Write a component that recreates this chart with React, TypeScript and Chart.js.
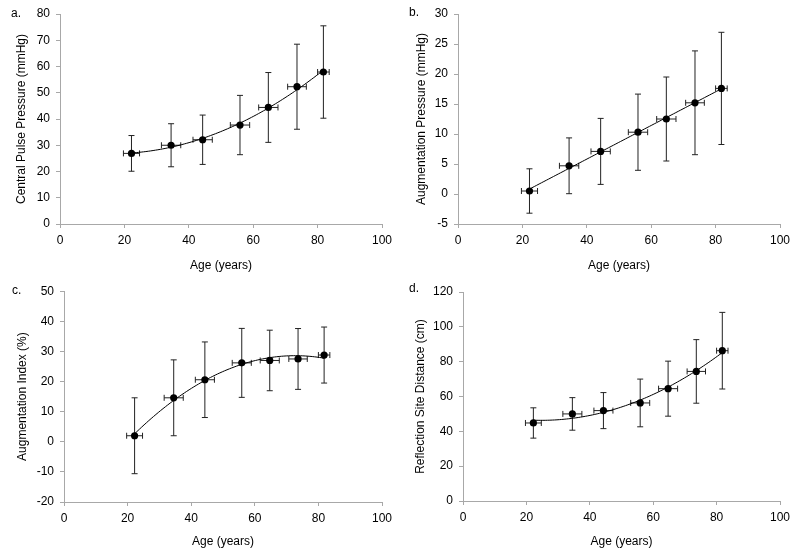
import React, { useEffect, useRef } from "react";
import { Chart, registerables } from "chart.js";

Chart.register(...registerables);

// ---- Data ----
const ages = [22.2, 34.5, 44.3, 55.9, 64.7, 73.6, 81.8];
const ageSD = [2.5, 3.0, 3.0, 3.0, 3.0, 2.9, 1.8];

const cppMean = [26.9, 30.0, 32.1, 37.7, 44.4, 52.3, 57.9];
const cppSD = [6.8, 8.2, 9.4, 11.3, 13.3, 16.2, 17.6];

const apMean = [0.5, 4.7, 7.1, 10.3, 12.5, 15.2, 17.6];
const apSD = [3.7, 4.65, 5.5, 6.35, 7.0, 8.65, 9.35];

const aixMean = [2.0, 14.6, 20.6, 26.2, 27.0, 27.5, 28.8];
const aixSD = [12.6, 12.6, 12.55, 11.45, 10.05, 10.1, 9.3];

const rsdMean = [44.8, 50.0, 51.9, 56.3, 64.5, 74.4, 86.3];
const rsdSD = [8.7, 9.35, 10.35, 13.7, 15.8, 18.25, 22.0];

const xTickMin = 0;
const xTickMax = 100;
const xTickStep = 20;

const FONT = "'Liberation Sans', Arial, Helvetica, sans-serif";

// Least-squares polynomial trendline coefficients from the data
function polyFit(xs: number[], ys: number[], order: number): number[] {
  const n = order + 1;
  const A: number[][] = Array.from({ length: n }, () => Array(n + 1).fill(0));
  for (let r = 0; r < n; r++) {
    for (let c = 0; c < n; c++) {
      A[r][c] = xs.reduce((s, x) => s + Math.pow(x, r + c), 0);
    }
    A[r][n] = xs.reduce((s, x, i) => s + Math.pow(x, r) * ys[i], 0);
  }
  for (let i = 0; i < n; i++) {
    let p = i;
    for (let k = i + 1; k < n; k++) if (Math.abs(A[k][i]) > Math.abs(A[p][i])) p = k;
    const tmp = A[i];
    A[i] = A[p];
    A[p] = tmp;
    for (let k = 0; k < n; k++) {
      if (k === i) continue;
      const f = A[k][i] / A[i][i];
      for (let j = i; j <= n; j++) A[k][j] -= f * A[i][j];
    }
  }
  return A.map((row, i) => row[n] / row[i]);
}

function trendPoints(xs: number[], ys: number[], order: number) {
  const coef = polyFit(xs, ys, order);
  const x0 = xs[0];
  const x1 = xs[xs.length - 1];
  const pts: { x: number; y: number }[] = [];
  const steps = 80;
  for (let i = 0; i <= steps; i++) {
    const x = x0 + ((x1 - x0) * i) / steps;
    let y = 0;
    for (let k = 0; k < coef.length; k++) y += coef[k] * Math.pow(x, k);
    pts.push({ x, y });
  }
  return pts;
}

type PanelCfg = {
  letter: string;
  px: number;
  py: number;
  h: number;
  mean: number[];
  sd: number[];
  yMin: number;
  yMax: number;
  yStep: number;
  yTitle: string;
  order: number;
  left: number;
  right: number;
  top: number;
  bottom: number;
  yTitleX: number;
  xTitlePadBottom: number;
  letterX: number;
  letterY: number;
};

const panels: PanelCfg[] = [
  {
    letter: "a.", px: 0, py: 0, h: 278, mean: cppMean, sd: cppSD,
    yMin: 0, yMax: 80, yStep: 10, yTitle: "Central Pulse Pressure (mmHg)", order: 2,
    left: 60, right: 382, top: 14, bottom: 224, yTitleX: 22, xTitlePadBottom: 5,
    letterX: 11, letterY: 6,
  },
  {
    letter: "b.", px: 400, py: 0, h: 278, mean: apMean, sd: apSD,
    yMin: -5, yMax: 30, yStep: 5, yTitle: "Augmentation Pressure (mmHg)", order: 1,
    left: 58, right: 380, top: 14, bottom: 224, yTitleX: 22, xTitlePadBottom: 5,
    letterX: 9, letterY: 5,
  },
  {
    letter: "c.", px: 0, py: 278, h: 278, mean: aixMean, sd: aixSD,
    yMin: -20, yMax: 50, yStep: 10, yTitle: "Augmentation Index (%)", order: 2,
    left: 64, right: 382, top: 13, bottom: 224, yTitleX: 23, xTitlePadBottom: 7,
    letterX: 12, letterY: 5,
  },
  {
    letter: "d.", px: 400, py: 278, h: 278, mean: rsdMean, sd: rsdSD,
    yMin: 0, yMax: 120, yStep: 20, yTitle: "Reflection Site Distance (cm)", order: 2,
    left: 63, right: 380, top: 14, bottom: 223, yTitleX: 21, xTitlePadBottom: 7,
    letterX: 9, letterY: 3,
  },
];

function Panel({ cfg }: { cfg: PanelCfg }) {
  const ref = useRef<HTMLCanvasElement>(null);
  useEffect(() => {
    const canvas = ref.current;
    if (!canvas) return;
    const points = ages.map((a, i) => ({ x: a, y: cfg.mean[i] }));
    const trend = trendPoints(ages, cfg.mean, cfg.order);

    const errorBars = {
      id: "errorBars",
      beforeDatasetsDraw(chart: any) {
        const ctx = chart.ctx;
        const xs = chart.scales.x;
        const ys = chart.scales.y;
        const cap = 3;
        ctx.save();
        ctx.strokeStyle = "#222";
        ctx.lineWidth = 1;
        ages.forEach((a, i) => {
          const m = cfg.mean[i];
          const cx = xs.getPixelForValue(a);
          const cy = ys.getPixelForValue(m);
          const yT = ys.getPixelForValue(m + cfg.sd[i]);
          const yB = ys.getPixelForValue(m - cfg.sd[i]);
          const xL = xs.getPixelForValue(a - ageSD[i]);
          const xR = xs.getPixelForValue(a + ageSD[i]);
          ctx.beginPath();
          ctx.moveTo(cx, yT);
          ctx.lineTo(cx, yB);
          ctx.moveTo(cx - cap, yT);
          ctx.lineTo(cx + cap, yT);
          ctx.moveTo(cx - cap, yB);
          ctx.lineTo(cx + cap, yB);
          ctx.moveTo(xL, cy);
          ctx.lineTo(xR, cy);
          ctx.moveTo(xL, cy - cap);
          ctx.lineTo(xL, cy + cap);
          ctx.moveTo(xR, cy - cap);
          ctx.lineTo(xR, cy + cap);
          ctx.stroke();
        });
        ctx.restore();
      },
    };

    const axisColor = "#a8a8a8";
    const chart = new Chart(canvas, {
      type: "scatter",
      data: {
        datasets: [
          {
            label: "mean",
            data: points,
            pointRadius: 3.6,
            pointBackgroundColor: "#000",
            pointBorderColor: "#000",
            pointBorderWidth: 0,
            showLine: false,
          },
          {
            label: "trend",
            data: trend,
            pointRadius: 0,
            borderColor: "#000",
            borderWidth: 1,
            showLine: true,
            tension: 0,
          },
        ],
      },
      options: {
        animation: false,
        responsive: false,
        maintainAspectRatio: false,
        events: [],
        layout: {
          padding: { left: 0, top: cfg.top, right: 400 - cfg.right, bottom: 0 },
        },
        plugins: {
          legend: { display: false },
          tooltip: { enabled: false },
        },
        scales: {
          x: {
            type: "linear",
            min: xTickMin,
            max: xTickMax,
            ticks: { stepSize: xTickStep, padding: 5, color: "#000", font: { family: FONT, size: 12 } },
            grid: { display: true, drawOnChartArea: false, drawTicks: true, tickLength: 4, color: axisColor },
            border: { display: true, color: axisColor, width: 1 },
            title: {
              display: true,
              text: "Age (years)",
              color: "#000",
              font: { family: FONT, size: 12 },
              padding: { top: 0, bottom: cfg.xTitlePadBottom },
            },
            afterFit: (s: any) => {
              s.height = cfg.h - cfg.bottom;
            },
          },
          y: {
            type: "linear",
            min: cfg.yMin,
            max: cfg.yMax,
            ticks: { stepSize: cfg.yStep, padding: 6, color: "#000", font: { family: FONT, size: 12 } },
            grid: { display: true, drawOnChartArea: false, drawTicks: true, tickLength: 4, color: axisColor },
            border: { display: true, color: axisColor, width: 1 },
            title: {
              display: true,
              text: cfg.yTitle,
              color: "#000",
              font: { family: FONT, size: 12 },
              padding: { top: cfg.yTitleX - 7.2, bottom: 0 },
            },
            afterFit: (s: any) => {
              s.width = cfg.left;
            },
          },
        },
      } as any,
      plugins: [errorBars],
    });
    return () => chart.destroy();
  }, [cfg]);

  return (
    <div style={{ position: "absolute", left: cfg.px, top: cfg.py, width: 400, height: cfg.h }}>
      <canvas ref={ref} width={400} height={cfg.h} style={{ display: "block" }} />
      <span
        style={{
          position: "absolute",
          left: cfg.letterX,
          top: cfg.letterY,
          fontFamily: FONT,
          fontSize: 12,
          lineHeight: "14px",
          color: "#000",
        }}
      >
        {cfg.letter}
      </span>
    </div>
  );
}

export default function App() {
  return (
    <div
      style={{
        position: "absolute",
        left: 0,
        top: 0,
        width: 800,
        height: 556,
        background: "#fff",
        overflow: "hidden",
      }}
    >
      {panels.map((p) => (
        <Panel key={p.letter} cfg={p} />
      ))}
    </div>
  );
}
